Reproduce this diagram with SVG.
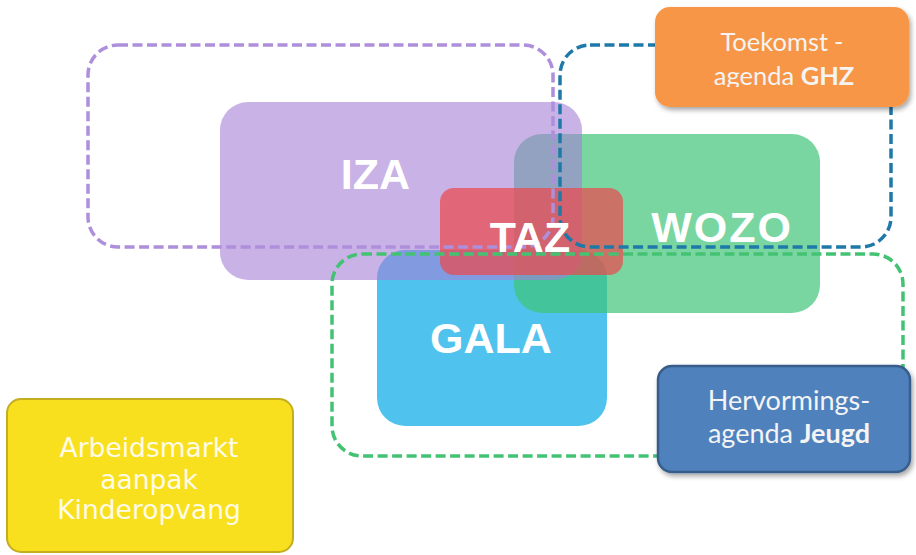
<svg xmlns="http://www.w3.org/2000/svg" width="916" height="555" viewBox="0 0 916 555">
  <defs>
    <filter id="shadow" x="-10%" y="-10%" width="125%" height="140%">
      <feDropShadow dx="2" dy="3" stdDeviation="2.5" flood-color="#000" flood-opacity="0.35"/>
    </filter>
    <clipPath id="clipGHZ">
      <rect x="655" y="7" width="254" height="80"/>
    </clipPath>
  </defs>
  <style>
    .big { font-family: "Liberation Sans", Arial, sans-serif; font-weight: bold; font-size: 43px; fill: #ffffff; text-anchor: middle; }
    .lbl { font-family: Lato, "Open Sans", sans-serif; fill: #f4f4f4; text-anchor: middle; }
    .dash { fill: none; stroke-width: 3.5; stroke-dasharray: 10 4.5; }
    .yl { font-family: "DejaVu Sans", Verdana, sans-serif; font-size: 26.5px; fill: #fffbe6; text-anchor: middle; }
  </style>
  <rect width="916" height="555" fill="#ffffff"/>

  <g id="GALA">
    <rect x="377" y="250" width="230" height="176" rx="28" fill="#4fc3ee"/>
  </g>
  <g id="WOZO">
    <rect x="514" y="134" width="306" height="179" rx="28" fill="#40c577" fill-opacity="0.7"/>
  </g>
  <g id="IZA">
    <rect x="220" y="102" width="362" height="178" rx="28" fill="#a57ed6" fill-opacity="0.6"/>
  </g>
  <g id="TAZ">
    <rect x="440" y="188" width="183" height="87" rx="14" fill="#ea494d" fill-opacity="0.72"/>
  </g>

  <g id="groups">
    <rect class="dash" x="88" y="45" width="465" height="202" rx="30" stroke="#ad8fdc"/>
    <rect class="dash" x="560" y="45" width="331" height="202" rx="30" stroke="#1e79a8"/>
    <rect class="dash" x="332" y="254" width="571" height="202" rx="30" stroke="#44c274"/>
  </g>

  <g id="labels">
    <text class="big" x="375.5" y="189">IZA</text>
    <text class="big" x="722" y="242" letter-spacing="2">WOZO</text>
    <text class="big" x="530" y="252">TAZ</text>
    <text class="big" x="491" y="353" font-size="41">GALA</text>
  </g>

  <g id="Toekomst" filter="url(#shadow)">
    <rect x="655" y="7" width="254" height="100" rx="15" fill="#f79646"/>
  </g>
  <g id="ToekomstText" clip-path="url(#clipGHZ)">
    <text class="lbl" x="782" y="51" font-size="25.5">Toekomst<tspan dx="6">-</tspan></text>
    <text class="lbl" x="784" y="85" font-size="25.5">agenda <tspan font-weight="bold">GHZ</tspan></text>
  </g>

  <g id="Hervormings">
    <rect x="658" y="366" width="252" height="106" rx="14" fill="#4f81bd" stroke="#385d8a" stroke-width="2.5" filter="url(#shadow)"/>
    <text class="lbl" x="789" y="410" font-size="27">Hervormings-</text>
    <text class="lbl" x="789" y="443" font-size="27">agenda <tspan font-weight="bold">Jeugd</tspan></text>
  </g>

  <g id="Arbeidsmarkt">
    <rect x="7" y="399" width="286" height="153" rx="14" fill="#f8e01e" stroke="#c4ad1e" stroke-width="2"/>
    <text class="yl" x="149" y="457">Arbeidsmarkt</text>
    <text class="yl" x="149" y="489">aanpak</text>
    <text class="yl" x="149" y="519">Kinderopvang</text>
  </g>
</svg>
